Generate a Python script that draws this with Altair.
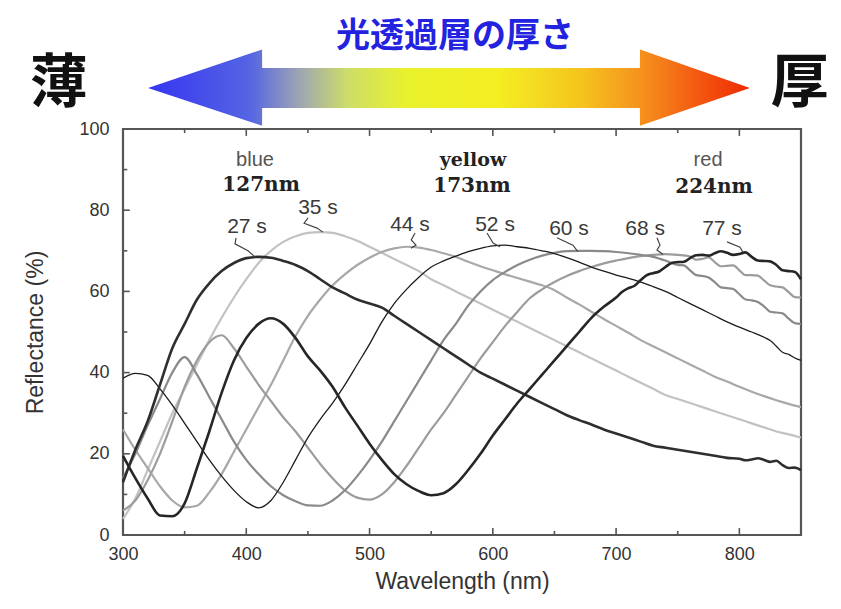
import altair as alt
import pandas as pd

# ---------------- data ----------------
WL = list(range(300, 851, 10))

R27 = [13, 21, 28, 37, 46, 52, 58, 62, 65, 67, 68.2,
       68.5, 68.3, 67.5, 66.5, 65, 63, 61, 59.5, 58, 57,
       56, 54, 52, 50, 48, 46, 44, 42, 40, 38.5,
       37, 35.5, 34, 32.5, 31, 29.5, 28.3, 27.2, 26, 25,
       24, 23, 22, 21.5, 21, 20.5, 20, 19.5, 19, 18.8,
       18.6, 18.5, 18.3, 16.5, 16]
R35 = [4, 9, 16, 23, 30, 36, 42, 48, 53.5, 58.5, 63,
       67, 70, 72.2, 73.6, 74.4, 74.6, 74.4, 73.6, 72.5, 71,
       69.5, 68, 66.5, 65, 63, 61.5, 60, 58.5, 57, 55.5,
       54, 52.5, 51, 49.5, 48, 46.5, 45, 43.5, 42, 40.5,
       39, 37.5, 36, 34.5, 33.5, 32.5, 31.5, 30.5, 29.5, 28.5,
       27.5, 26.5, 25.5, 24.8, 24]
R44 = [26, 21, 16.5, 12, 8.5, 6.8, 7.2, 10.5, 15, 20.5, 26,
       31.5, 37, 43, 49, 54, 58, 61.5, 64.2, 66.5, 68.3,
       69.7, 70.6, 71, 70.8, 70.2, 69.4, 68.5, 67.3, 66.2, 65.2,
       64.2, 63.3, 62.4, 61.5, 60.3, 58.5, 56.8, 55, 53.2, 51.5,
       49.8, 48, 46.5, 45, 43.5, 42, 40.5, 39, 37.8, 36.5,
       35.3, 34.2, 33.2, 32.3, 31.5]
R52 = [38.6, 39.8, 39.3, 36, 32, 27.5, 23, 18.5, 14.5, 11, 8.2,
       6.7, 8.5, 13, 18.5, 24, 28.5, 32.5, 37, 42, 47,
       52.5, 57, 60.5, 63.5, 66, 67.5, 68.7, 69.8, 70.6, 71.2,
       71.4, 71, 70.6, 70, 69.3, 68.3, 67.2, 66, 65, 64,
       63.2, 62.3, 61.2, 60, 58.5, 57, 55.5, 54, 52.5, 51.2,
       50, 48.7, 46.5, 44.5, 43]
R60 = [14, 20, 27, 33.5, 40, 43.8, 39.5, 34, 28.5, 23, 18.5,
       15, 12, 9.8, 8.3, 7.3, 7.2, 8.5, 11, 14.5, 18.5,
       23, 28, 33, 38, 43, 48, 52, 56.5, 60, 62.8,
       64.8, 66.5, 67.8, 68.8, 69.5, 69.9, 70, 70, 69.9, 69.7,
       69.4, 69, 68.5, 67.6, 66.5, 65.2, 63.8, 62.3, 60.8, 59.3,
       57.8, 56.3, 54.8, 53.3, 52]
R68 = [6, 8.5, 13.5, 20, 28, 36.5, 43, 47.5, 49.2, 46, 41.5,
       37, 33, 29, 25.5, 21.5, 17.5, 14, 11, 9.2, 8.7,
       10, 13, 17, 21.5, 26, 30, 34.5, 39, 43.5, 47.5,
       51.5, 55, 58.3, 60.5, 62.3, 63.8, 65, 66, 66.9, 67.6,
       68.2, 68.7, 69, 69.2, 69, 68.6, 68, 67.2, 66.3, 65.2,
       64, 62.7, 61.2, 59.8, 58.5]
R77 = [19.5, 14, 9, 4.8, 4.6, 7.8, 16.5, 25.5, 35, 43, 48.5,
       52, 53.4, 52, 48.5, 44, 40.5, 36.5, 31.5, 27, 22.5,
       18.5, 15, 12.5, 10.8, 9.8, 10.3, 12.5, 16, 20, 24.5,
       28.5, 32.5, 36, 39.5, 43, 46.5, 50, 53.5, 56.2, 58.5,
       60.8, 62.8, 64.5, 66, 67.2, 68.2, 69, 69.4, 69.5, 69.2,
       68.5, 67.5, 66.5, 65, 63]

# extra readings where the measured curves are noisy (long-wavelength end)
X27_WL = [805, 815, 825, 835, 845]
X27_R = [18.4, 18.9, 18.0, 17.2, 16.6]
X52_WL = [825, 835, 845]
X52_R = [47.9, 45.0, 43.6]
X60_WL = [755, 765, 775, 785, 795, 805, 815, 825, 835, 845]
X60_R = [66.4, 64.0, 63.4, 61.0, 60.6, 58.0, 57.4, 55.0, 54.6, 52.2]
X68_WL = [765, 775, 785, 795, 805, 815, 825, 835, 845]
X68_R = [67.8, 68.4, 66.2, 66.4, 64.0, 63.9, 61.5, 61.0, 58.6]
X77_WL = [705, 715, 725, 735, 745, 755, 765, 775, 785, 795, 805, 815, 825, 835, 845]
X77_R = [59.9, 61.4, 64.0, 64.9, 67.0, 67.3, 68.9, 68.8, 69.9, 69.0, 69.6, 67.6, 67.4, 65.2, 64.8]

SERIES = ["35 s", "44 s", "68 s", "60 s", "52 s", "27 s", "77 s"]
SERIES_DATA = {
    "27 s": (R27, X27_WL, X27_R),
    "35 s": (R35, [], []),
    "44 s": (R44, [], []),
    "52 s": (R52, X52_WL, X52_R),
    "60 s": (R60, X60_WL, X60_R),
    "68 s": (R68, X68_WL, X68_R),
    "77 s": (R77, X77_WL, X77_R),
}
STYLE = {
    "27 s": ("#2e2e2e", 2.6),
    "35 s": ("#c2c2c2", 2.2),
    "44 s": ("#a8a8a8", 2.2),
    "52 s": ("#1c1c1c", 1.3),
    "60 s": ("#8a8a8a", 2.2),
    "68 s": ("#9c9c9c", 2.2),
    "77 s": ("#262626", 2.6),
}

# curve labels (text, wl, R) and their leader lines
LABELS = ["27 s", "35 s", "44 s", "52 s", "60 s", "68 s", "77 s"]
LABEL_WL = [400.6, 458.2, 532.8, 601.8, 661.8, 723.5, 785.9]
LABEL_R = [75.9, 80.5, 76.4, 76.4, 75.4, 75.4, 75.4]
LEADERS = {
    "27 s": ([391.7, 390.9, 401.4, 407.1], [73.2, 71.7, 70.0, 68.5]),
    "35 s": ([450.1, 446.9, 457.4, 462.2], [78.1, 76.8, 75.6, 74.6]),
    "44 s": ([536.9, 533.8, 537.7, 533.6], [74.4, 72.7, 71.4, 70.6]),
    "52 s": ([595.3, 600.2, 605.8], [74.4, 71.9, 71.0]),
    "60 s": ([652.0, 665.0, 669.0], [73.2, 71.4, 69.8]),
    "68 s": ([733.2, 735.6, 733.2, 738.1], [73.2, 71.4, 70.2, 69.1]),
    "77 s": ([790.0, 800.5, 803.0], [72.2, 70.9, 69.6]),
}
COLOR_WORDS = ["blue", "yellow", "red"]
COLOR_WORD_WL = [407.1, 583.9, 774.6]
THICK_TEXT = ["127nm", "173nm", "224nm"]
THICK_WL = [412.0, 583.1, 779.4]

X_TICKS_MAJOR = [400, 500, 600, 700, 800]
X_TICKS_MINOR = [350, 450, 550, 650, 750]
Y_TICKS_MAJOR = [20, 40, 60, 80]
Y_TICKS_MINOR = [10, 30, 50, 70, 90]

# ---------------- chart ----------------
FONT = "Liberation Sans"
xs = alt.Scale(domain=[300, 850], nice=False, zero=False)
ys = alt.Scale(domain=[0, 100], nice=False, zero=False)
xaxis = alt.Axis(values=[300, 400, 500, 600, 700, 800], ticks=False, domain=False, grid=False,
                 labelFontSize=18, labelColor="#333", labelFont=FONT, labelPadding=10,
                 labelFlush=False, labelOverlap=False,
                 title="Wavelength (nm)", titleFont=FONT, titleFontSize=23,
                 titleFontWeight="normal", titleColor="#333", titlePadding=7)
yaxis = alt.Axis(values=[0, 20, 40, 60, 80, 100], ticks=False, domain=False, grid=False,
                 labelFontSize=18, labelColor="#333", labelFont=FONT, labelPadding=14,
                 labelFlush=False, labelOverlap=False,
                 title="Reflectance (%)", titleFont=FONT, titleFontSize=23,
                 titleFontWeight="normal", titleColor="#333", titlePadding=31)

X = alt.X("wl:Q", scale=xs, axis=xaxis)
Y = alt.Y("r:Q", scale=ys, axis=yaxis)

layers = []

# gradient double arrow above the plot
arrow = pd.DataFrame({
    "wl": [320.3, 412.8, 412.9, 719.3, 719.4, 808.6],
    "r": [110.1, 119.6, 115.0, 115.0, 119.6, 110.1],
    "r2": [110.1, 100.8, 105.2, 105.2, 100.8, 110.1],
})
grad = alt.Gradient(
    gradient="linear", x1=0, y1=0, x2=1, y2=0,
    stops=[
        alt.GradientStop(offset=0.0, color="#3535f2"),
        alt.GradientStop(offset=0.17, color="#5565e2"),
        alt.GradientStop(offset=0.25, color="#9ca4b4"),
        alt.GradientStop(offset=0.33, color="#cddc6a"),
        alt.GradientStop(offset=0.43, color="#e9f22c"),
        alt.GradientStop(offset=0.58, color="#f4ee22"),
        alt.GradientStop(offset=0.72, color="#f5c41e"),
        alt.GradientStop(offset=0.82, color="#f5911e"),
        alt.GradientStop(offset=0.91, color="#f45a12"),
        alt.GradientStop(offset=1.0, color="#ee2a02"),
    ],
)
layers.append(alt.Chart(arrow).mark_area(color=grad, line=False, interpolate="linear").encode(
    x=X, y=Y, y2="r2:Q"))

head = pd.DataFrame({"wl": [569.3], "r": [122.6], "t": ["光透過層の厚さ"]})
layers.append(alt.Chart(head).mark_text(font="Noto Sans CJK JP", fontSize=34, fontWeight="bold",
                                        color="#2323df", baseline="middle", align="center").encode(
    x=X, y=Y, text="t:N"))
ends = pd.DataFrame({"wl": [248.0, 849.0], "r": [110.8, 110.8], "t": ["薄", "厚"]})
layers.append(alt.Chart(ends).mark_text(font="Noto Sans CJK JP", fontSize=58, fontWeight="bold",
                                        color="#111", baseline="middle", align="center").encode(
    x=X, y=Y, text="t:N"))

# spectra
for s in SERIES:
    base, xw, xr = SERIES_DATA[s]
    pts = sorted(list(zip(WL, base)) + list(zip(xw, xr)))
    df = pd.DataFrame({"wl": [p[0] for p in pts], "r": [p[1] for p in pts]})
    col, w = STYLE[s]
    layers.append(alt.Chart(df).mark_line(color=col, strokeWidth=w, interpolate="monotone").encode(
        x=X, y=Y))

# leader lines
rows = []
for s, (lw, lr) in LEADERS.items():
    for i, (a, b) in enumerate(zip(lw, lr)):
        rows.append({"id": s, "o": i, "wl": a, "r": b})
lead = pd.DataFrame(rows)
layers.append(alt.Chart(lead).mark_line(color="#444", strokeWidth=1.2).encode(
    x=X, y=Y, detail="id:N", order="o:Q"))

# labels
lab = pd.DataFrame({"wl": LABEL_WL, "r": LABEL_R, "t": LABELS})
layers.append(alt.Chart(lab).mark_text(font=FONT, fontSize=21, color="#3a3a3a",
                                       baseline="middle", align="center").encode(
    x=X, y=Y, text="t:N"))
cw = pd.DataFrame({"wl": COLOR_WORD_WL, "r": [92.3, 92.3, 92.3], "t": COLOR_WORDS,
                   "f": ["s", "m", "s"]})
layers.append(alt.Chart(cw[cw.f == "s"]).mark_text(font=FONT, fontSize=20, color="#555",
                                                   baseline="middle", align="center").encode(
    x=X, y=Y, text="t:N"))
layers.append(alt.Chart(cw[cw.f == "m"]).mark_text(font="DejaVu Serif", fontSize=19, fontWeight="bold",
                                                   color="#222", baseline="middle", align="center").encode(
    x=X, y=Y, text="t:N"))
th = pd.DataFrame({"wl": THICK_WL, "r": [86.2, 86.0, 85.6], "t": THICK_TEXT})
layers.append(alt.Chart(th).mark_text(font="DejaVu Serif", fontSize=20, fontWeight="bold",
                                      color="#222", baseline="middle", align="center").encode(
    x=X, y=Y, text="t:N"))

# inward ticks on bottom, top and left edges
trows = []
for v in X_TICKS_MAJOR + X_TICKS_MINOR:
    L = 1.7 if v in X_TICKS_MAJOR else 1.0
    trows.append({"wl": v, "wl2": v, "r": 0, "r2": L})
    trows.append({"wl": v, "wl2": v, "r": 100, "r2": 100 - L})
for v in Y_TICKS_MAJOR + Y_TICKS_MINOR:
    L = 5.5 if v in Y_TICKS_MAJOR else 3.5
    trows.append({"wl": 300, "wl2": 300 + L, "r": v, "r2": v})
ticks = pd.DataFrame(trows)
layers.append(alt.Chart(ticks).mark_rule(color="#555", strokeWidth=1.6).encode(
    x=X, x2="wl2:Q", y=Y, y2="r2:Q"))

chart = alt.layer(*layers).properties(
    width=678, height=406,
    autosize=alt.AutoSizeParams(type="none"),
    padding={"left": 115, "top": 121, "right": 32, "bottom": 64},
    background="white",
).configure_view(stroke="#555", strokeWidth=2.2)

chart.save("out.html", embed_options={"renderer": "svg", "actions": False})
